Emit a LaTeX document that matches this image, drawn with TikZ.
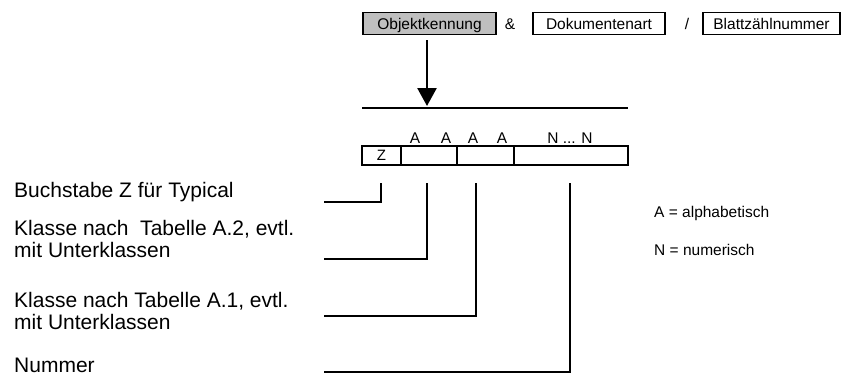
\documentclass[tikz,border=0pt]{standalone}
\usepackage{fontspec}
\setmainfont{Liberation Sans}
\usetikzlibrary{arrows.meta}
\begin{document}
\begin{tikzpicture}[x=1pt,y=-1pt,
  keybox/.style={draw=black, line width=1.2pt, minimum height=22pt, inner sep=0pt,
    text height=11.1pt, text depth=0pt, font=\fontsize{15.5}{18}\selectfont},
  cell/.style={draw=black, line width=1.2pt, minimum height=19pt, inner sep=0pt,
    text height=10.7pt, text depth=0pt, font=\fontsize{15}{18}\selectfont},
  small/.style={inner sep=0pt, font=\fontsize{15.5}{18}\selectfont},
  desc/.style={inner sep=0pt, anchor=north west, align=left,
    font=\fontsize{21}{22.5}\selectfont},
  lead/.style={line width=1.6pt},
]
\useasboundingbox (0,0) rectangle (846,381);

% identifier composition
\node[keybox, fill=black!25, minimum width=133pt] (obj) at (429.5,23.5) {Objektkennung};
\node[small, anchor=base] (amp) at (510,29.5) {\&};
\node[keybox, minimum width=132pt] (dok) at (599,23.5) {Dokumentenart};
\node[small, anchor=base] (sl) at (687,29.5) {/};
\node[keybox, minimum width=137pt] (blatt) at (771.5,23.5) {Blattzählnummer};

% expansion arrow onto the rule
\coordinate (a0) at (427,40);
\coordinate (a1) at (427,106);
\coordinate (r0) at (362,108);
\coordinate (r1) at (628,108);
\draw[line width=2.6pt, -{Triangle[width=19pt,length=18pt]}] (a0) -- (a1);
\draw[line width=1.8pt] (r0) -- (r1);

% character pattern
\node[small, anchor=base] (ca1) at (415,143) {A};
\node[small, anchor=base] (ca2) at (446,143) {A};
\node[small, anchor=base] (ca3) at (473,143) {A};
\node[small, anchor=base] (ca4) at (502,143) {A};
\node[small, anchor=base] (cn) at (570,143) {N ... N};

% identifier fields
\node[cell, minimum width=39pt] (fz) at (381.5,155.5) {Z};
\node[cell, minimum width=56pt] (fk2) at (429,155.5) {};
\node[cell, minimum width=57pt] (fk1) at (485.5,155.5) {};
\node[cell, minimum width=114pt] (fn) at (571,155.5) {};

% descriptions (north edge = first baseline minus ascender height)
\node[desc] (dz) at (14,182) {Buchstabe Z für Typical};
\node[desc] (dk2) at (14,220) {Klasse nach~ Tabelle A.2, evtl.\\mit Unterklassen};
\node[desc] (dk1) at (14,292) {Klasse nach Tabelle A.1, evtl.\\mit Unterklassen};
\node[desc] (dn) at (14,358) {Nummer};

% leader lines from descriptions to fields
\coordinate (tz) at (381,183);
\coordinate (tk2) at (427,183);
\coordinate (tk1) at (476,183);
\coordinate (tn) at (570,183);
\coordinate (lz) at (324,202);
\coordinate (lk2) at (324,259);
\coordinate (lk1) at (324,316);
\coordinate (ln) at (324,372);
\draw[lead] (lz) -| (tz);
\draw[lead] (lk2) -| (tk2);
\draw[lead] (lk1) -| (tk1);
\draw[lead] (ln) -| (tn);

% legend
\node[small, anchor=base west] (la) at (654,217.5) {A = alphabetisch};
\node[small, anchor=base west] (ln2) at (654,255) {N = numerisch};
\end{tikzpicture}
\end{document}
